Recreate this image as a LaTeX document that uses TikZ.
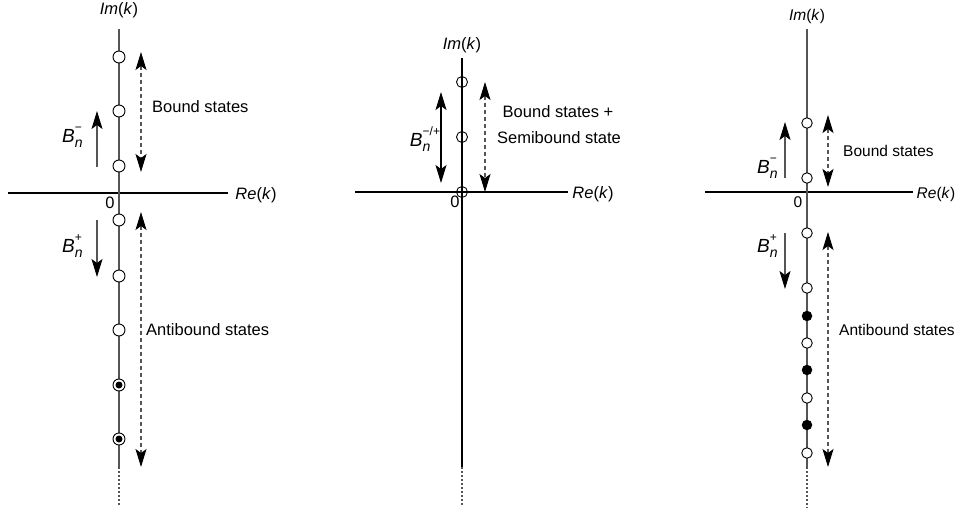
\documentclass[tikz,border=0pt]{standalone}
\usepackage{fontspec}
\setmainfont{Liberation Sans}
\usetikzlibrary{arrows.meta}
\definecolor{axgray}{RGB}{85,85,85}
\newcommand{\labfont}{\fontsize{16.5}{19}\selectfont}
\newcommand{\rlabfont}{\fontsize{15.5}{18}\selectfont}
\newcommand{\Bbig}{\fontsize{19}{22}\selectfont}
\newcommand{\Bsub}{\fontsize{14}{16}\selectfont}
\newcommand{\Bsup}{\fontsize{12}{14}\selectfont}
\newcommand{\Bsym}[1]{{\Bbig\textit{B}}\makebox[0pt][l]{\raisebox{-0.55ex}{\Bsub\textit{n}}}\raisebox{1.25ex}{\Bsup #1}}
\newcommand{\ImK}{\textit{Im}(\textit{k})}
\newcommand{\ReK}{\textit{Re}(\textit{k})}
\begin{document}
\begin{tikzpicture}[x=1pt,y=-1pt,
  haxis/.style={line width=1.1pt,draw=black},
  vaxis/.style={line width=1.1pt,draw=axgray},
  dotaxis/.style={line width=1.1pt,draw=axgray,dash pattern=on 1.5pt off 2.5pt},
  opencirc/.style={circle,draw=black,fill=white,inner sep=0pt,minimum size=12pt,line width=0.9pt},
  fullcirc/.style={circle,fill=black,inner sep=0pt,minimum size=10.5pt},
  innerdot/.style={circle,fill=black,inner sep=0pt,minimum size=7pt},
  solidarrow/.style={line width=1.1pt,draw=axgray,-{Stealth[length=18pt,width=11pt,inset=4pt,black]}},
  soliddbl/.style={line width=1.1pt,draw=black,{Stealth[length=18pt,width=11pt,inset=4pt]}-{Stealth[length=18pt,width=11pt,inset=4pt]}},
  dasharrow/.style={line width=1.1pt,draw=axgray,dash pattern=on 4pt off 3pt,{Stealth[length=18pt,width=11pt,inset=4pt,black]}-{Stealth[length=18pt,width=11pt,inset=4pt,black]}},
  lab/.style={font=\labfont,inner sep=0pt},
  rlab/.style={font=\rlabfont,inner sep=0pt}]
\useasboundingbox (0,0) rectangle (960,514);

% ================= Left panel =================
\coordinate (LvT) at (119,29);
\coordinate (LvB) at (119,467);
\coordinate (LvD) at (119,505);
\coordinate (LhL) at (8,193);
\coordinate (LhR) at (228,193);
\draw[haxis] (LhL) -- (LhR);
\draw[vaxis] (LvT) -- (LvB);
\draw[dotaxis] (LvB) -- (LvD);
\node[lab] (LIm) at (119,10) {\ImK};
\node[lab] (LRe) at (256,195) {\ReK};
\node[lab] (L0) at (110,203) {0};

\node[opencirc] (Lc1) at (119,57) {};
\node[opencirc] (Lc2) at (119,111) {};
\node[opencirc] (Lc3) at (119,166) {};
\node[opencirc] (Lc4) at (119,220) {};
\node[opencirc] (Lc5) at (119,276) {};
\node[opencirc] (Lc6) at (119,330) {};
\node[opencirc] (Lc7) at (119,385) {};
\node[innerdot] (Lc7i) at (119,385) {};
\node[opencirc] (Lc8) at (119,439) {};
\node[innerdot] (Lc8i) at (119,439) {};

\coordinate (LbT) at (141,52);
\coordinate (LbB) at (141,172);
\draw[dasharrow] (LbT) -- (LbB);
\node[lab,anchor=west] (Lbound) at (152,107) {Bound states};

\coordinate (LaT) at (141,212);
\coordinate (LaB) at (141,467);
\draw[dasharrow] (LaT) -- (LaB);
\node[lab,anchor=west] (Lanti) at (146,330) {Antibound states};

\coordinate (LmB) at (97,167);
\coordinate (LmT) at (97,111);
\draw[solidarrow] (LmB) -- (LmT);
\node[lab] (LBm) at (72,137) {\Bsym{\textminus}};

\coordinate (LpT) at (97,220);
\coordinate (LpB) at (97,277);
\draw[solidarrow] (LpT) -- (LpB);
\node[lab] (LBp) at (72,246) {\Bsym{+}};

% ================= Middle panel =================
\coordinate (MvT) at (462,58);
\coordinate (MvB) at (462,467);
\coordinate (MvD) at (462,505);
\coordinate (MhL) at (355,192);
\coordinate (MhR) at (568,192);
\draw[haxis] (MhL) -- (MhR);
\draw[vaxis,draw=black] (MvT) -- (MvB);
\draw[dotaxis] (MvB) -- (MvD);
\node[lab] (MIm) at (462,45) {\ImK};
\node[lab] (MRe) at (593,194) {\ReK};
\node[lab] (M0) at (455,202) {0};

\node[opencirc,fill=none,minimum size=11pt] (Mc1) at (462,82) {};
\node[opencirc,fill=none,minimum size=11pt] (Mc2) at (462,137) {};
\node[opencirc,fill=none,minimum size=11pt] (Mc3) at (462,192) {};

\coordinate (MsT) at (441,92);
\coordinate (MsB) at (441,183);
\draw[soliddbl] (MsT) -- (MsB);
\node[lab] (MB) at (425,139) {\Bsym{\textminus/+}};

\coordinate (MdT) at (485,82);
\coordinate (MdB) at (485,192);
\draw[dasharrow] (MdT) -- (MdB);
\node[lab] (Mbound) at (558,112) {Bound states +};
\node[lab] (Msemi) at (559,138) {Semibound state};

% ================= Right panel =================
\coordinate (RvT) at (807,29);
\coordinate (RvB) at (807,467);
\coordinate (RvD) at (807,508);
\coordinate (RhL) at (705,192);
\coordinate (RhR) at (913,192);
\draw[haxis] (RhL) -- (RhR);
\draw[vaxis] (RvT) -- (RvB);
\draw[dotaxis] (RvB) -- (RvD);
\node[rlab] (RIm) at (807,16) {\ImK};
\node[rlab] (RRe) at (936,194) {\ReK};
\node[rlab] (R0) at (798,202) {0};

\node[opencirc,minimum size=10.5pt] (Rc1) at (807,123) {};
\node[opencirc,minimum size=10.5pt] (Rc2) at (807,178) {};
\node[opencirc,minimum size=10.5pt] (Rc3) at (807,233) {};
\node[opencirc,minimum size=10.5pt] (Rc4) at (807,288) {};
\node[fullcirc] (Rc5) at (807,316) {};
\node[opencirc,minimum size=10.5pt] (Rc6) at (807,343) {};
\node[fullcirc] (Rc7) at (807,370) {};
\node[opencirc,minimum size=10.5pt] (Rc8) at (807,398) {};
\node[fullcirc] (Rc9) at (807,425) {};
\node[opencirc,minimum size=10.5pt] (Rc10) at (807,453) {};

\coordinate (RbT) at (828,115);
\coordinate (RbB) at (828,187);
\draw[dasharrow] (RbT) -- (RbB);
\node[rlab,anchor=west] (Rbound) at (843,151) {Bound states};

\coordinate (RaT) at (828,232);
\coordinate (RaB) at (828,467);
\draw[dasharrow] (RaT) -- (RaB);
\node[rlab,anchor=west] (Ranti) at (839,330) {Antibound states};

\coordinate (RmB) at (785,178);
\coordinate (RmT) at (785,122);
\draw[solidarrow] (RmB) -- (RmT);
\node[lab] (RBm) at (767,168) {\Bsym{\textminus}};

\coordinate (RpT) at (785,233);
\coordinate (RpB) at (785,289);
\draw[solidarrow] (RpT) -- (RpB);
\node[lab] (RBp) at (767,246) {\Bsym{+}};
\end{tikzpicture}
\end{document}
